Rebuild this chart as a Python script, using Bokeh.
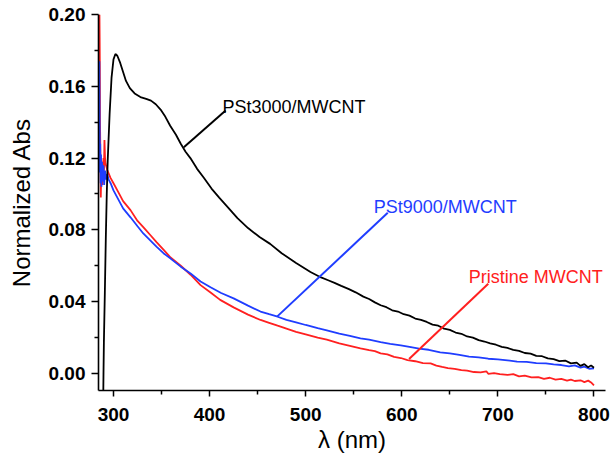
from bokeh.plotting import figure
from bokeh.models import Range1d, FixedTicker, PrintfTickFormatter, Label, ColumnDataSource
from bokeh.embed import file_html
from bokeh.resources import INLINE

# ---------------- data ----------------
black_pts = [(289.0, -0.03), (289.6, 0.000), (290.0, 0.017), (291.0, 0.045), (292.0, 0.075),
             (293.0, 0.100), (294.0, 0.119), (296.0, 0.145), (298.0, 0.165), (300.0, 0.175),
             (302.0, 0.178), (304.0, 0.177), (307.0, 0.173), (310.0, 0.168), (313.0, 0.163),
             (317.0, 0.159), (322.0, 0.156), (328.0, 0.154), (334.0, 0.153), (339.0, 0.152),
             (344.0, 0.150), (349.0, 0.147), (354.0, 0.143), (359.0, 0.138), (365.0, 0.133),
             (370.0, 0.128), (375.0, 0.1235), (380.0, 0.120), (387.0, 0.114), (394.0, 0.109),
             (402.0, 0.103), (410.0, 0.098), (420.0, 0.092), (429.0, 0.0865), (440.0, 0.081),
             (452.0, 0.076), (463.0, 0.0722), (475.0, 0.067), (490.0, 0.0615), (505.0, 0.0565),
             (516.0, 0.0535), (524.0, 0.0518), (530.0, 0.0505), (537.0, 0.0488), (545.0, 0.0470),
             (552.0, 0.0452), (560.0, 0.0428), (566.0, 0.0415), (572.0, 0.0396), (578.0, 0.0380),
             (584.0, 0.0369), (590.0, 0.0352), (596.0, 0.0345), (602.0, 0.0330), (608.0, 0.0322),
             (614.0, 0.0306), (620.0, 0.0298), (626.0, 0.0287), (632.0, 0.0272), (638.0, 0.0266),
             (644.0, 0.0250), (650.0, 0.0243), (656.0, 0.0228), (662.0, 0.0221), (668.0, 0.0206),
             (674.0, 0.0200), (680.0, 0.0186), (686.0, 0.0178), (692.0, 0.0168), (698.0, 0.0160),
             (704.0, 0.0148), (710.0, 0.0142), (716.0, 0.0131), (722.0, 0.0126), (728.0, 0.0114),
             (734.0, 0.0110), (740.0, 0.0098), (746.0, 0.0096), (752.0, 0.0084), (758.0, 0.0080),
             (764.0, 0.0069), (770.0, 0.0072), (776.0, 0.0056), (782.0, 0.0060), (786.0, 0.0042),
             (790.0, 0.0052), (794.0, 0.0034), (797.0, 0.0045), (800.0, 0.0032)]

blue_pts = [(285.3, 0.174), (285.6, 0.140), (285.9, 0.112), (286.2, 0.128), (286.6, 0.106),
            (287.0, 0.122), (287.5, 0.104), (288.0, 0.118), (288.7, 0.107), (289.5, 0.116),
            (290.3, 0.105), (291.2, 0.113), (292.2, 0.108), (293.5, 0.111), (295.0, 0.108),
            (297.0, 0.106), (300.0, 0.102), (305.0, 0.097), (310.0, 0.092), (317.7, 0.087),
            (325.0, 0.082), (331.0, 0.078), (338.5, 0.074), (345.0, 0.0705), (352.0, 0.067),
            (359.4, 0.064), (370.0, 0.0595), (380.2, 0.0557), (390.6, 0.0512), (401.0, 0.048),
            (412.0, 0.0448), (425.0, 0.0418), (440.0, 0.0378), (453.0, 0.0345), (462.0, 0.0330),
            (470.8, 0.0316), (480.0, 0.0298), (490.0, 0.0285), (500.0, 0.0270), (512.5, 0.0252),
            (522.0, 0.0240), (535.0, 0.0222), (546.0, 0.0210), (557.0, 0.0195), (566.0, 0.0188),
            (578.0, 0.0175), (588.0, 0.0165), (599.0, 0.0156), (608.0, 0.0148), (618.0, 0.0138),
            (628.0, 0.0132), (640.0, 0.0118), (650.0, 0.0112), (660.0, 0.0104), (670.0, 0.0094),
            (680.0, 0.0090), (690.0, 0.0082), (700.0, 0.0078), (710.0, 0.0073), (720.0, 0.0066),
            (730.0, 0.0064), (740.0, 0.0058), (750.0, 0.0056), (758.0, 0.0050), (766.0, 0.0047),
            (774.0, 0.0040), (780.0, 0.0045), (786.0, 0.0032), (790.0, 0.0038), (795.0, 0.0026),
            (800.0, 0.0029)]

red_pts = [(285.4, 0.200), (285.6, 0.187), (285.8, 0.170), (286.0, 0.140), (286.3, 0.125),
           (286.8, 0.098), (287.2, 0.112), (287.6, 0.118), (288.0, 0.108), (288.5, 0.105),
           (289.0, 0.114), (289.6, 0.120), (290.1, 0.113), (290.6, 0.130), (291.2, 0.120),
           (291.7, 0.117), (292.7, 0.115), (293.75, 0.113), (296.9, 0.109), (300.0, 0.106),
           (305.0, 0.101), (310.0, 0.096), (317.7, 0.091), (325.0, 0.085), (331.0, 0.0815),
           (338.5, 0.077), (345.0, 0.073), (352.0, 0.069), (359.4, 0.0646), (370.0, 0.060),
           (380.2, 0.0550), (390.6, 0.0492), (401.0, 0.0451), (411.0, 0.0410), (425.0, 0.0368),
           (440.0, 0.0328), (453.0, 0.0298), (462.0, 0.0282), (470.8, 0.0266), (480.0, 0.0250),
           (490.0, 0.0232), (500.0, 0.0218), (512.5, 0.0200), (522.0, 0.0188), (535.0, 0.0168),
           (546.0, 0.0154), (557.0, 0.0140), (566.0, 0.0130), (572.0, 0.0124), (578.0, 0.0112),
           (585.0, 0.0106), (592.0, 0.0092), (599.0, 0.0086), (606.0, 0.0074), (614.0, 0.0068),
           (622.0, 0.0058), (630.0, 0.0056), (636.0, 0.0044), (642.0, 0.0036), (648.0, 0.0030),
           (655.0, 0.0026), (662.0, 0.0018), (668.0, 0.0016), (675.0, 0.0008), (682.0, 0.0006),
           (688.0, 0.0012), (690.0, -0.0002), (696.0, 0.0002), (702.0, -0.0004), (710.0, -0.0008),
           (716.0, -0.0004), (722.0, -0.0016), (728.0, -0.0012), (735.0, -0.0022), (742.0, -0.0020),
           (748.0, -0.0030), (754.0, -0.0024), (760.0, -0.0034), (766.0, -0.0030), (772.0, -0.0040),
           (776.0, -0.0034), (780.0, -0.0042), (786.0, -0.0038), (790.0, -0.0048), (794.0, -0.0040),
           (797.0, -0.0050), (800.0, -0.0066)]

series_names = ["PSt3000/MWCNT", "PSt9000/MWCNT", "Pristine MWCNT"]
series_colors = ["#000000", "#1f3dff", "#ff2020"]

x_ticks = [300, 400, 500, 600, 700, 800]
x_minor = [350, 450, 550, 650, 750]
y_ticks = [0.00, 0.04, 0.08, 0.12, 0.16, 0.20]
y_minor = [0.02, 0.06, 0.10, 0.14, 0.18]

# annotation text anchors (data units) and leader lines
label_x = [413.5, 570.8, 669.8]
label_y = [0.1482, 0.0925, 0.0535]
leader_x0 = [416.7, 585.4, 690.0]
leader_y0 = [0.1465, 0.0895, 0.0500]
leader_x1 = [373.2, 470.5, 607.6]
leader_y1 = [0.1260, 0.0318, 0.0080]

FONT = "Liberation Sans"

p = figure(width=611, height=460, x_range=Range1d(284.4, 812.0), y_range=Range1d(-0.0095, 0.2),
           output_backend="svg", toolbar_location=None,
           min_border_left=98, min_border_right=6, min_border_top=14, min_border_bottom=70)
p.outline_line_color = None
p.xgrid.visible = False
p.ygrid.visible = False
p.background_fill_color = "white"

src_b = ColumnDataSource(dict(x=[a for a, _ in black_pts], y=[b for _, b in black_pts]))
src_u = ColumnDataSource(dict(x=[a for a, _ in blue_pts], y=[b for _, b in blue_pts]))
src_r = ColumnDataSource(dict(x=[a for a, _ in red_pts], y=[b for _, b in red_pts]))

p.line("x", "y", source=src_r, line_color=series_colors[2], line_width=1.8)
p.line("x", "y", source=src_u, line_color=series_colors[1], line_width=1.8)
p.line("x", "y", source=src_b, line_color=series_colors[0], line_width=1.8)

p.segment(x0=leader_x0, y0=leader_y0, x1=leader_x1, y1=leader_y1,
          line_color=series_colors, line_width=2)

for name, col, lx, ly in zip(series_names, series_colors, label_x, label_y):
    p.add_layout(Label(x=lx, y=ly, text=name, text_color=col, text_font=FONT,
                       text_font_size="18px", text_align="left", text_baseline="alphabetic"))

for ax in (p.xaxis[0], p.yaxis[0]):
    ax.axis_line_width = 1.6
    ax.axis_line_color = "black"
    ax.major_tick_line_width = 1.5
    ax.minor_tick_line_width = 1.5
    ax.major_tick_in = 0
    ax.minor_tick_in = 0
    ax.major_label_text_font = FONT
    ax.major_label_text_font_style = "bold"
    ax.major_label_text_font_size = "19px"
    ax.major_label_text_color = "black"
    ax.axis_label_text_font = FONT
    ax.axis_label_text_font_style = "normal"
    ax.axis_label_text_font_size = "24px"
    ax.axis_label_text_color = "black"

p.xaxis.ticker = FixedTicker(ticks=x_ticks, minor_ticks=x_minor)
p.yaxis.ticker = FixedTicker(ticks=y_ticks, minor_ticks=y_minor)
p.xaxis.formatter = PrintfTickFormatter(format="%d")
p.yaxis.formatter = PrintfTickFormatter(format="%.2f")
p.xaxis.major_tick_out = 6
p.xaxis.minor_tick_out = 4
p.yaxis.major_tick_out = 7
p.yaxis.minor_tick_out = 4
p.xaxis.major_label_standoff = 11
p.yaxis.major_label_standoff = 6
p.xaxis.axis_label = "λ (nm)"
p.yaxis.axis_label = "Normalized Abs"
p.xaxis.axis_label_standoff = 2
p.yaxis.axis_label_standoff = 11

open("out.html", "w").write(file_html(p, INLINE))
